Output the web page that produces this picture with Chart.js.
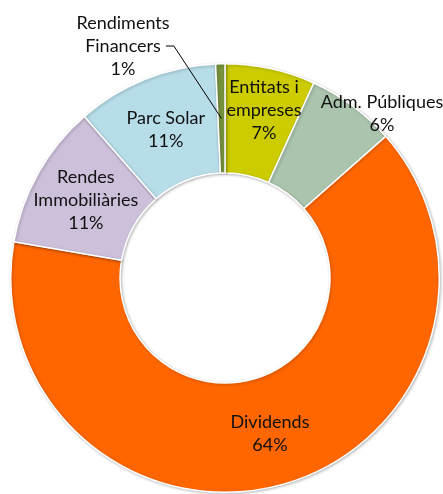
<!DOCTYPE html>
<html>
<head>
<meta charset="utf-8">
<script src="https://cdn.jsdelivr.net/npm/chart.js@4/dist/chart.umd.min.js"></script>
<style>
  html, body { margin: 0; padding: 0; background: #fff; }
  #wrap { width: 443px; height: 494px; position: relative; }
</style>
</head>
<body>
<div id="wrap"><canvas id="donut"></canvas></div>
<script>
// slice order clockwise from 12 o'clock
const categories = ['Entitats i empreses', 'Adm. Públiques', 'Dividends', 'Rendes Immobiliàries', 'Parc Solar', 'Rendiments Financers'];
const labelLines = [['Entitats i', 'empreses'], ['Adm. Públiques'], ['Dividends'], ['Rendes', 'Immobiliàries'], ['Parc Solar'], ['Rendiments', 'Financers']];
const values = [6.8, 6.7, 64.2, 10.9, 10.7, 0.7];
const pctLabels = ['7%', '6%', '64%', '11%', '11%', '1%'];
const colors = ['#cccc00', '#abc4ad', '#ff6600', '#ccc0da', '#b7dde8', '#77933c'];

const fontFamily = 'Lato, "Open Sans", sans-serif';
const lineHeight = 23;

// labels that Excel pushed away from the ring centre
const movedLabels = {
    0: { x: 264, y: 110 },
    1: { x: 382, y: 114 },
    2: { x: 270, y: 434 },
    5: { x: 123, y: 46, leader: true }
};

const sliceLabels = {
    id: 'sliceLabels',
    afterDatasetsDraw(chart) {
        const ctx = chart.ctx;
        const arcs = chart.getDatasetMeta(0).data;
        ctx.save();
        ctx.font = '18px ' + fontFamily;
        ctx.fillStyle = '#111111';
        ctx.textAlign = 'center';
        ctx.textBaseline = 'middle';
        arcs.forEach((arc, i) => {
            const mid = arc.tooltipPosition();
            let pos = { x: mid.x, y: mid.y };
            const moved = movedLabels[i];
            if (moved) {
                pos = { x: moved.x, y: moved.y };
            }
            const lines = labelLines[i].concat([pctLabels[i]]);
            const top = pos.y - (lines.length - 1) * lineHeight / 2;
            lines.forEach((txt, k) => {
                ctx.fillText(txt, pos.x, top + k * lineHeight);
            });
            if (moved && moved.leader) {
                // leader line from the label to the thin slice
                const w = ctx.measureText('Financers').width;
                const sx = pos.x + w / 2 + 5;
                ctx.beginPath();
                ctx.strokeStyle = '#000';
                ctx.lineWidth = 1;
                ctx.moveTo(sx, pos.y);
                ctx.lineTo(sx + 8, pos.y);
                ctx.lineTo(mid.x, mid.y);
                ctx.stroke();
            }
        });
        ctx.restore();
    }
};

const ringShadow = {
    id: 'ringShadow',
    beforeDatasetsDraw(chart) {
        const ctx = chart.ctx;
        ctx.save();
        ctx.shadowColor = 'rgba(0,0,0,0.25)';
        ctx.shadowBlur = 3;
        ctx.shadowOffsetX = 1;
        ctx.shadowOffsetY = 1;
    },
    afterDatasetsDraw(chart) {
        chart.ctx.restore();
    }
};

new Chart(document.getElementById('donut'), {
    type: 'doughnut',
    data: {
        labels: categories,
        datasets: [{
            data: values,
            backgroundColor: colors,
            borderColor: '#ffffff',
            borderWidth: 1.5
        }]
    },
    options: {
        responsive: true,
        maintainAspectRatio: false,
        animation: false,
        cutout: '49%',
        layout: {
            padding: { left: 10, right: 3, top: 63, bottom: 1 }
        },
        plugins: {
            legend: { display: false },
            tooltip: { enabled: false }
        }
    },
    plugins: [ringShadow, sliceLabels]
});
</script>
</body>
</html>
